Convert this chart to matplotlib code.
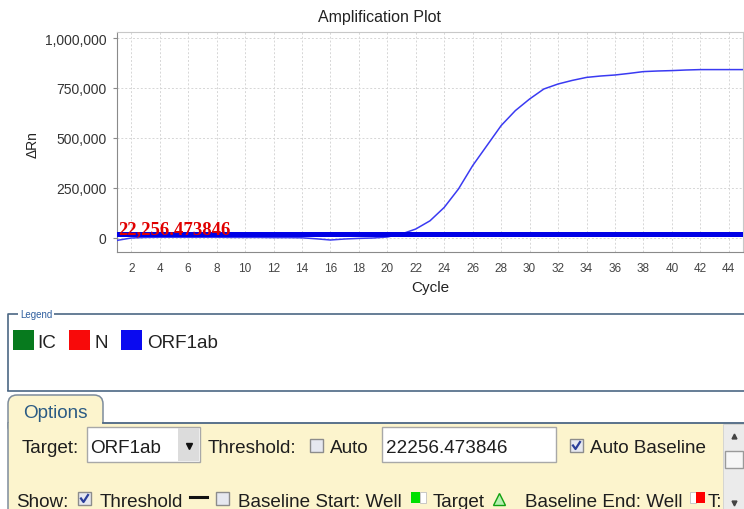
import matplotlib
matplotlib.use("Agg")
import matplotlib.pyplot as plt
from matplotlib.patches import Rectangle, FancyBboxPatch
from matplotlib.ticker import FuncFormatter

# ---------------- data ----------------
cycles = list(range(1, 46))
orf1ab_drn = [-12000, 0, 3000, 4000, 4000, 4000, 4000, 4000, 3000, 3000,
              3000, 2000, 2000, 1000, -4000, -10000, -5000, -2000, 0, 5000,
              20000, 45000, 86000, 153000, 245000, 362000, 462000, 562000, 637000, 695000,
              745000, 770000, 788000, 803000, 810000, 815000, 823000, 832000, 835000, 837000,
              840000, 842000, 842000, 842000, 842000]
threshold = 22256.473846
y_ticks = [0, 250000, 500000, 750000, 1000000]
x_ticks = list(range(2, 46, 2))
legend_targets = ["IC", "N", "ORF1ab"]
legend_colors = ["#077a1e", "#f80a0a", "#0a0af0"]

UI = ["Liberation Sans", "DejaVu Sans"]
FS = 13.6
W, H = 744, 510
fig = plt.figure(figsize=(W / 100, H / 100), dpi=100)
fig.patch.set_facecolor("white")

# ---------------- amplification plot ----------------
L, R, T, B = 117, 743, 33, 253
ax = fig.add_axes([L / W, 1 - B / H, (R - L) / W, (B - T) / H])
ax.set_xlim(1, 45)
ax.set_ylim(-70000, 1030000)
ax.set_xticks(x_ticks)
ax.set_yticks(y_ticks)
ax.yaxis.set_major_formatter(FuncFormatter(lambda v, p: f"{int(v):,}"))
ax.grid(True, color="#d6d6d6", linestyle=(0, (2, 2)), linewidth=0.7)
ax.set_axisbelow(True)
for s in ["top", "right"]:
    ax.spines[s].set_color("#c8c8c8")
for s in ["left", "bottom"]:
    ax.spines[s].set_color("#8a8a8a")
ax.tick_params(axis="y", length=3, color="#8a8a8a", pad=4.5, labelsize=10, labelcolor="#333333")
ax.tick_params(axis="x", length=0, pad=7, labelsize=8.5, labelcolor="#444444")
for lab in ax.get_yticklabels():
    lab.set_family(UI)
for lab in ax.get_xticklabels():
    lab.set_family(["Liberation Sans Narrow", "Liberation Sans", "DejaVu Sans"])

ax.plot(cycles, orf1ab_drn, color="#3a3af2", linewidth=1.1, zorder=3)
ax.axhline(threshold, color="#0000e6", linewidth=3.6, zorder=4)
ax.text(1.07, threshold + 2000, f"{threshold:,.6f}", family=["Liberation Serif", "DejaVu Serif"],
        fontweight="bold", fontsize=13.5, color="#e00000", va="baseline", ha="left", zorder=5)

ax.set_title("Amplification Plot", family=UI, fontsize=11.5, color="#222222",
             x=(379 - L) / (R - L), pad=8)
ax.set_xlabel("Cycle", family=UI, fontsize=11, color="#222222", va="center")
ax.xaxis.set_label_coords((430 - L) / (R - L), -(288 - B) / (B - T))
ax.set_ylabel("ΔRn", family=UI, fontsize=10, color="#222222", va="center", ha="center")
ax.yaxis.set_label_coords(-(L - 33) / (R - L), (B - 145) / (B - T))

# ---------------- UI overlay (pixel coordinates) ----------------
ov = fig.add_axes([0, 0, 1, 1], zorder=10)
ov.set_xlim(0, W)
ov.set_ylim(H, 0)
ov.axis("off")
ov.patch.set_alpha(0)

border = "#4c6784"
# Legend box
ov.plot([8, 8, 760], [392, 315, 315], color=border, lw=1.2, solid_capstyle="butt")
ov.plot([8, 760], [392, 392], color=border, lw=1.2)
ov.text(20, 315, "Legend", family=UI, fontsize=7, color="#2f5f9f", va="center", ha="left",
        bbox=dict(facecolor="white", edgecolor="none", pad=1.5))
sq_x = [13, 69, 121]
txt_x = [37, 94, 147]
for name, col, sx, tx in zip(legend_targets, legend_colors, sq_x, txt_x):
    ov.add_patch(Rectangle((sx, 331), 21, 20, facecolor=col, edgecolor="none"))
    ov.text(tx, 348, name, family=UI, fontsize=FS, color="#222222", va="baseline", ha="left")

# Options tab & panel
panel = "#fcf4cd"
ov.add_patch(FancyBboxPatch((8, 396), 95, 40, boxstyle="round,pad=0,rounding_size=9",
                            facecolor=panel, edgecolor="#7d8c9c", lw=1.1, zorder=1))
ov.add_patch(Rectangle((8, 424), 740, 90, facecolor=panel, edgecolor="none", zorder=2))
ov.plot([103, 744], [424, 424], color=border, lw=1.3, zorder=3)
ov.plot([8, 8], [424, 512], color="#7d8c9c", lw=1.1, zorder=3)
ov.text(23, 418, "Options", family=UI, fontsize=FS, color="#2b5b84", va="baseline", zorder=4)

tc = "#1e1e1e"
r1, r2 = 453, 507
ov.text(22, r1, "Target:", family=UI, fontsize=FS, color=tc, va="baseline", zorder=4)
ov.add_patch(Rectangle((87, 428), 113, 35, facecolor="white", edgecolor="#a8a8a8", lw=1, zorder=4))
ov.add_patch(Rectangle((178, 429), 21, 33, facecolor="#dcdcdc", edgecolor="none", zorder=5))
ov.plot([189], [447], marker="v", color="#111111", markersize=4, zorder=6)
ov.text(90, r1, "ORF1ab", family=UI, fontsize=FS, color=tc, va="baseline", zorder=6)
ov.text(208, r1, "Threshold:", family=UI, fontsize=FS, color=tc, va="baseline", zorder=4)


def checkbox(x, y, checked):
    ov.add_patch(Rectangle((x, y), 13, 13, facecolor="#e6e8f0", edgecolor="#8c8c8c", lw=1, zorder=5))
    if checked:
        ov.plot([x + 3, x + 5.5, x + 10], [y + 6.5, y + 10, y + 3], color="#2b3f9a", lw=1.6, zorder=6)


checkbox(310, 440, False)
ov.text(330, r1, "Auto", family=UI, fontsize=FS, color=tc, va="baseline", zorder=4)
ov.add_patch(Rectangle((382, 428), 174, 35, facecolor="white", edgecolor="#a8a8a8", lw=1, zorder=4))
ov.text(386, r1, f"{threshold:.6f}", family=UI, fontsize=FS, color=tc, va="baseline", zorder=5)
checkbox(570, 440, True)
ov.text(590, r1, "Auto Baseline", family=UI, fontsize=FS, color=tc, va="baseline", zorder=4)

# row 2
ov.text(16, r2, "Show:", family=UI, fontsize=FS, color=tc, va="baseline", zorder=4)
checkbox(78, 493, True)
ov.text(100, r2, "Threshold", family=UI, fontsize=FS, color=tc, va="baseline", zorder=4)
ov.plot([190, 207], [498, 498], color="#111111", lw=2.2, zorder=4)
checkbox(216, 493, False)
ov.text(238, r2, "Baseline Start: Well", family=UI, fontsize=FS, color=tc, va="baseline", zorder=4)
ov.add_patch(Rectangle((411, 493), 9, 11, facecolor="#00e000", edgecolor="none", zorder=5))
ov.add_patch(Rectangle((420, 493), 6, 11, facecolor="white", edgecolor="#c0c0c0", lw=0.6, zorder=5))
ov.text(433, r2, "Target", family=UI, fontsize=FS, color=tc, va="baseline", zorder=4)
ov.plot([499], [500], marker="^", markersize=8, markerfacecolor="#b6f0b0",
        markeredgecolor="#10a010", markeredgewidth=1, zorder=5)
ov.text(525, r2, "Baseline End: Well", family=UI, fontsize=FS, color=tc, va="baseline", zorder=4)
ov.add_patch(Rectangle((690, 493), 6, 11, facecolor="white", edgecolor="#c0c0c0", lw=0.6, zorder=5))
ov.add_patch(Rectangle((696, 493), 9, 11, facecolor="#ff0000", edgecolor="none", zorder=5))
ov.text(708, r2, "T:", family=UI, fontsize=FS, color=tc, va="baseline", zorder=4)

# scrollbar
ov.add_patch(Rectangle((723, 425), 22, 90, facecolor="#ebebeb", edgecolor="#d0d0d0", lw=0.6, zorder=7))
ov.plot([734], [437], marker="^", markersize=3.5, color="#444444", zorder=8)
ov.add_patch(Rectangle((725, 452), 18, 17, facecolor="#f6f6f6", edgecolor="#9a9a9a", lw=1, zorder=8))
ov.plot([734], [504], marker="v", markersize=3.5, color="#444444", zorder=8)

fig.savefig("out.png", dpi=100)
